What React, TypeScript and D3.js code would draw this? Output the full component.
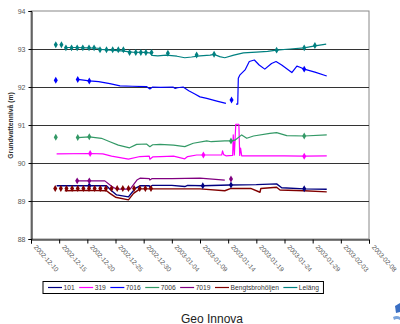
import React, { useEffect, useRef } from "react";
import * as d3 from "d3";

// days counted from 2002-12-10, level in metres
const startDate = new Date(2002, 11, 10);
const tickDays = [0, 5, 10, 15, 20, 25, 30, 35, 40, 45, 50, 55, 60];
const levelTicks = [88, 89, 90, 91, 92, 93, 94];

const line101 = [[4.55,89.40],[10,89.40],[13.4,89.40],[14.3,89.27],[15.2,89.16],[17.3,89.11],[18.5,89.33],[19.35,89.40],[21,89.40],[21.1,89.36],[21.5,89.41],[25,89.41],[27.3,89.38],[27.8,89.41],[30.5,89.40],[35.3,89.42],[40,89.43],[43.6,89.45],[44.5,89.35],[48.5,89.32],[52.5,89.31]];
const marks101 = [[10.35,89.40],[30.5,89.40],[35.5,89.42],[48.5,89.32]];

const line319 = [[4.55,90.24],[10.5,90.25],[12.75,90.24],[14.3,90.18],[17.3,90.10],[19.35,90.17],[21,90.18],[21.1,90.10],[21.6,90.16],[23,90.17],[25.3,90.18],[27.3,90.11],[27.8,90.17],[29.4,90.21],[30.6,90.21],[33.85,90.21],[34.0,90.32],[34.2,90.22],[34.6,90.19],[35.8,90.20],[35.9,90.74],[36.1,90.21],[36.35,91.02],[36.9,91.02],[37.05,90.20],[37.2,90.39],[37.4,90.19],[40,90.19],[45,90.19],[48.5,90.18],[52.5,90.19]];
const marks319 = [[10.5,90.25],[30.6,90.21],[48.5,90.18]];

const line7016 = [[8.3,92.20],[10.35,92.16],[12,92.14],[14,92.09],[15.8,92.03],[18,92.02],[20.5,92.01],[21.1,91.95],[21.6,92.00],[23,91.99],[25.2,92.00],[25.6,91.96],[26,91.98],[27,92.00],[28,91.90],[29,91.82],[30,91.74],[31.2,91.70],[33,91.63],[34.6,91.57],null,[36.4,91.55],[36.7,91.55],[36.8,92.23],[37.1,92.32],[38,92.45],[38.75,92.67],[39.65,92.71],[40.5,92.58],[41.5,92.47],[42.7,92.62],[43.5,92.67],[44.5,92.58],[46.3,92.38],[47.2,92.55],[47.75,92.52],[48.5,92.47],[50.4,92.39],[52.5,92.29]];
const marks7016 = [[4.4,92.18],[8.3,92.20],[10.35,92.16],[35.6,91.66],[48.5,92.47]];

const line7006 = [[8.3,90.67],[10.35,90.69],[12.5,90.65],[14,90.56],[15.5,90.47],[17.5,90.40],[18.75,90.49],[20.5,90.50],[21.1,90.43],[21.6,90.48],[22.9,90.49],[25.3,90.47],[27.3,90.43],[28.8,90.52],[31.2,90.58],[32,90.56],[34.4,90.58],[35.5,90.58],[36.2,90.60],[37.4,90.74],[38.3,90.65],[39.5,90.71],[42.4,90.78],[43.6,90.80],[45.4,90.72],[48.5,90.71],[52.5,90.74]];
const marks7006 = [[4.4,90.68],[8.3,90.67],[10.35,90.69],[35.5,90.58],[48.5,90.71]];

const line7019 = [[8.2,89.53],[10.35,89.53],[13.1,89.53],[14.3,89.39],[15.2,89.31],[17.6,89.31],[18.8,89.55],[19.35,89.60],[21,89.59],[21.1,89.55],[21.5,89.59],[25,89.59],[30,89.60],[34.4,89.55]];
const marks7019 = [[8.2,89.53],[10.35,89.53],[35.5,89.58]];

const lineBengts = [[6,89.27],[10,89.28],[13.4,89.27],[14,89.20],[15,89.10],[17.3,89.03],[18.2,89.20],[19.35,89.32],[25,89.32],[30,89.32],[34.4,89.27],[35.5,89.33],[39,89.33],[40.65,89.23],[40.8,89.33],[43.6,89.36],[44.2,89.29],[48.5,89.27],[52.5,89.24]];
const marksBengts = [[4.3,89.33],[5.3,89.33],[6.3,89.33],[7.3,89.33],[8.3,89.33],[9.3,89.33],[10.3,89.33],[11.3,89.33],[12.3,89.33],[13.3,89.33],[14.3,89.33],[15.3,89.33],[16.3,89.33],[17.3,89.33],[18.3,89.33],[19.3,89.33],[20.3,89.33],[21.3,89.33]];

const lineLelang = [[6.2,93.04],[8,93.04],[10,93.03],[12,93.02],[12.5,92.99],[14,92.97],[16,92.95],[18,92.92],[20,92.91],[21.1,92.90],[21.5,92.83],[22.5,92.82],[24,92.84],[25.9,92.81],[27.3,92.77],[28.5,92.79],[30,92.82],[31.8,92.84],[32.5,92.86],[33.5,92.80],[34.4,92.77],[36,92.84],[37.7,92.90],[40,92.92],[42,92.94],[43.6,92.97],[46,93.00],[48.5,93.03],[50.4,93.08],[52.4,93.13]];
const marksLelang = [[4.4,93.11],[5.4,93.11],[6.2,93.03],[7.2,93.03],[8.2,93.03],[9.2,93.03],[10.3,93.03],[11.2,93.03],[12.25,92.98],[13.4,92.98],[14.5,92.98],[15.5,92.98],[16.4,92.98],[17.5,92.91],[18.6,92.91],[19.5,92.91],[20.4,92.91],[21.4,92.91],[24.3,92.89],[29.4,92.84],[32.5,92.86],[43.6,92.97],[48.5,93.03],[50.4,93.09]];

const seriesNames = ["101", "319", "7016", "7006", "7019", "Bengtsbrohöljen", "Leläng"];
const seriesColors = ["#000080", "#ff00ff", "#0000ff", "#339966", "#800080", "#800000", "#008080"];
const seriesLines = [line101, line319, line7016, line7006, line7019, lineBengts, lineLelang];
const seriesMarks = [marks101, marks319, marks7016, marks7006, marks7019, marksBengts, marksLelang];

const dayToDate = (d: number) => new Date(startDate.getTime() + d * 86400000);

export default function App() {
  const ref = useRef<SVGSVGElement>(null);

  useEffect(() => {
    const svg = d3.select(ref.current);
    svg.selectAll("*").remove();
    const font = "Arial, 'Liberation Sans', sans-serif";

    const left = 31, right = 369, top = 11, bottom = 239;
    const x = d3.scaleTime().domain([dayToDate(0), dayToDate(60)]).range([left, right]);
    const y = d3.scaleLinear().domain([88, 94]).range([bottom, top]);

    // frame + grid
    svg.append("rect").attr("x", left).attr("y", top).attr("width", right - left).attr("height", bottom - top)
      .attr("fill", "none").attr("stroke", "#888").attr("stroke-width", 1);
    svg.append("g").selectAll("line").data(levelTicks.slice(1, -1)).join("line")
      .attr("x1", left).attr("x2", right)
      .attr("y1", (d) => Math.round(y(d)) + 0.5).attr("y2", (d) => Math.round(y(d)) + 0.5)
      .attr("stroke", "#333").attr("stroke-width", 1);

    // y axis
    const yAxis = svg.append("g").attr("transform", `translate(${left + 0.5},0)`)
      .call(d3.axisLeft(y).tickValues(levelTicks).tickSize(3).tickFormat(d3.format("d")));
    yAxis.select(".domain").attr("stroke", "#000");
    yAxis.selectAll("line").attr("stroke", "#000");
    yAxis.selectAll("text").attr("font-size", 7).attr("font-family", font).attr("fill", "#555").attr("x", -6);

    // x axis
    const xAxis = svg.append("g").attr("transform", `translate(0,${bottom + 0.5})`)
      .call(d3.axisBottom(x).tickValues(tickDays.map(dayToDate)).tickSize(4).tickFormat((d) => d3.timeFormat("%Y-%m-%d")(d as Date)));
    xAxis.select(".domain").attr("stroke", "#000");
    xAxis.selectAll("line").attr("stroke", "#000");
    xAxis.selectAll("text").attr("font-size", 6.5).attr("font-family", font).attr("fill", "#555")
      .attr("text-anchor", "start").attr("dy", null).attr("y", 0)
      .attr("transform", "translate(2,8) rotate(48)");

    // series
    const line = d3.line<any>().defined((d) => d !== null)
      .x((d) => x(dayToDate(d[0]))).y((d) => y(d[1]));
    const diamond = d3.symbol().type(d3.symbolDiamond).size(14);
    seriesLines.forEach((pts, i) => {
      svg.append("path").datum(pts).attr("d", line).attr("fill", "none")
        .attr("stroke", seriesColors[i]).attr("stroke-width", i === 0 || i === 5 ? 1.4 : 1.2)
        .attr("stroke-linejoin", "round");
    });
    seriesMarks.forEach((pts, i) => {
      svg.append("g").selectAll("path").data(pts).join("path")
        .attr("d", diamond)
        .attr("transform", (d) => `translate(${x(dayToDate(d[0]))},${y(d[1])})`)
        .attr("fill", seriesColors[i]);
    });

    // y title
    svg.append("text").attr("transform", `translate(13,125.5) rotate(-90)`)
      .attr("text-anchor", "middle").attr("font-size", 6.8).attr("font-weight", "bold")
      .attr("font-family", font).attr("fill", "#333").text("Grundvattennivå (m)");

    // legend
    const lg = svg.append("g");
    const box = lg.append("rect").attr("x", 43).attr("y", 281.5).attr("height", 12)
      .attr("fill", "#fff").attr("stroke", "#000").attr("stroke-width", 1);
    let cx = 48;
    const ly = 287.5;
    seriesNames.forEach((name, i) => {
      lg.append("line").attr("x1", cx).attr("x2", cx + 14).attr("y1", ly).attr("y2", ly)
        .attr("stroke", seriesColors[i]).attr("stroke-width", 1.2);
      const t = lg.append("text").attr("x", cx + 15.5).attr("y", ly + 2.3)
        .attr("font-size", 6.7).attr("font-family", font).attr("fill", "#333").text(name);
      const w = (t.node() as SVGTextElement).getComputedTextLength();
      cx += 15.5 + w + 4.5;
    });
    box.attr("width", cx - 43);

    svg.append("text").attr("x", 212).attr("y", 322.5).attr("text-anchor", "middle")
      .attr("font-size", 12).attr("font-family", font).attr("fill", "#222").text("Geo Innova");

    // partial logo at the corner
    svg.append("path").attr("d", "M395,306 L400,303 L400,312 L396,313 Z").attr("fill", "#3a6fc4");
    svg.append("path").attr("d", "M393,317 Q397,315 400,317 L400,320 Q397,318 394,320 Z").attr("fill", "#7aa4dc");
  }, []);

  return (
    <svg ref={ref} width={400} height={324}
      style={{ position: "absolute", left: 0, top: 0, background: "#fff" }} />
  );
}
